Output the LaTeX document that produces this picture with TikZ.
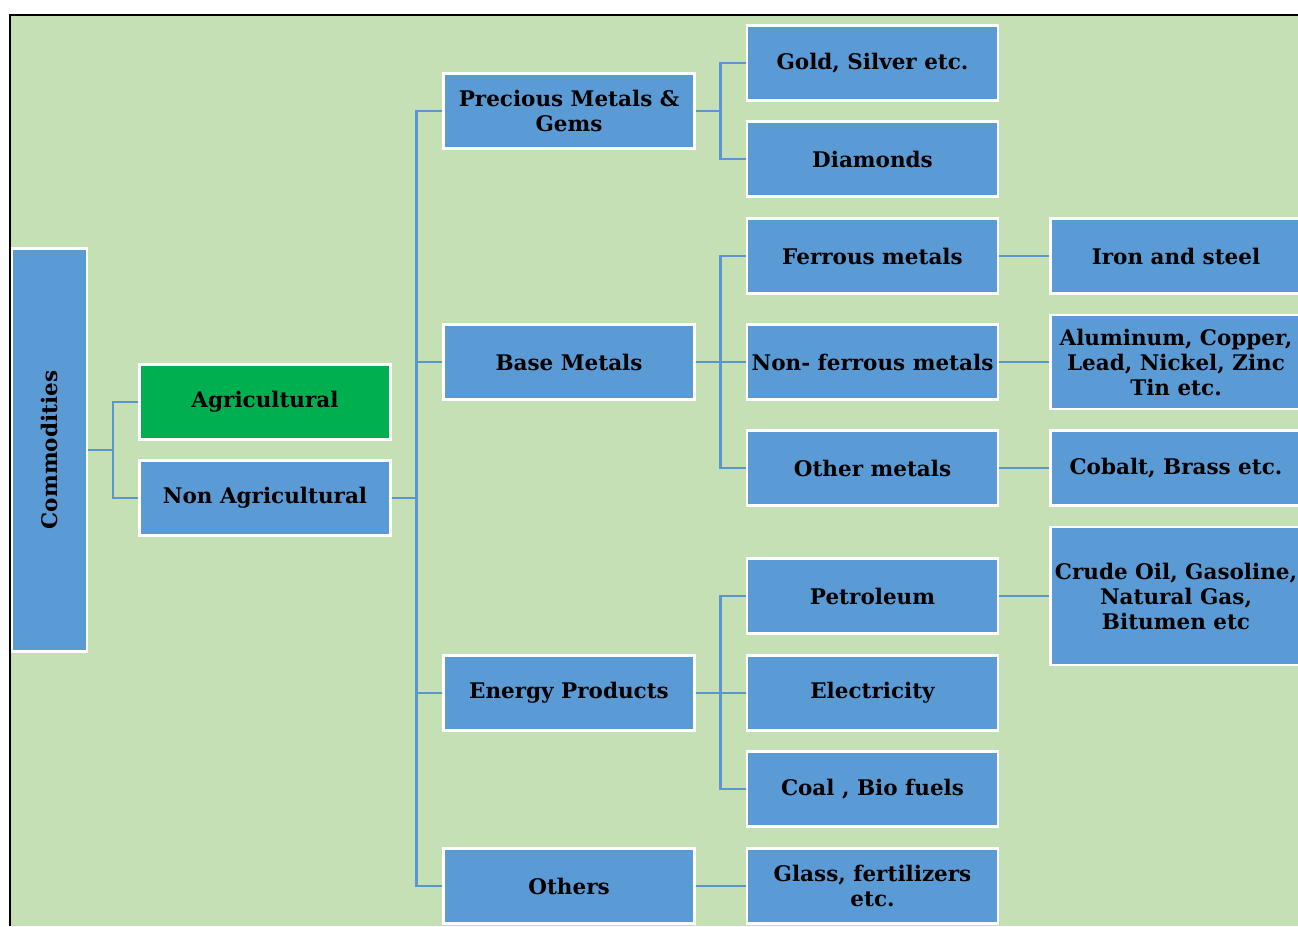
\documentclass[tikz,border=0pt]{standalone}
\usetikzlibrary{positioning}
\usepackage{xcolor}
\usepackage{fontspec}
\setmainfont{DejaVu Serif}
\definecolor{paleGreen}{HTML}{C5E0B4}
\definecolor{boxBlue}{HTML}{5B9BD5}
\definecolor{agriGreen}{HTML}{00B050}
\definecolor{lineBlue}{HTML}{5A96D0}

\tikzset{
  box/.style={draw=white, line width=2.2pt, fill=boxBlue, minimum width=251pt,
    minimum height=75pt, align=center, inner sep=1pt,
    font=\fontsize{21.5}{25}\selectfont\bfseries},
  link/.style={lineBlue, line width=2.5pt},
}

\begin{document}
\begin{tikzpicture}[x=1pt,y=-1pt]
\useasboundingbox (0,0) rectangle (1298,926);
% background panel, black frame on top and left
\fill[paleGreen] (10,15) rectangle (1298,926);
\draw[line width=2pt] (10,926) -- (10,15) -- (1298,15);

% root and first split
\node[box, minimum width=75pt, minimum height=403pt] (com) at (49.5,450) {\rotatebox{90}{Commodities}};
\node[box, fill=agriGreen] (agr) at (265,402) {Agricultural};
\node[box] (nag) at (265,498) {Non Agricultural};

% second level
\node[box] (pmg) at (569,111) {Precious Metals \&\\Gems};
\node[box] (base) at (569,362) {Base Metals};
\node[box] (ener) at (569,693) {Energy Products};
\node[box] (oth) at (569,886) {Others};

% third level
\node[box] (gold) at (872.5,63) {Gold, Silver etc.};
\node[box] (dia) at (872.5,159) {Diamonds};
\node[box] (fer) at (872.5,256) {Ferrous metals};
\node[box] (nfer) at (872.5,362) {Non- ferrous metals};
\node[box] (othm) at (872.5,468) {Other metals};
\node[box] (pet) at (872.5,596) {Petroleum};
\node[box] (ele) at (872.5,693) {Electricity};
\node[box] (coal) at (872.5,789) {Coal , Bio fuels};
\node[box] (glass) at (872.5,886) {Glass, fertilizers\\etc.};

% fourth level (runs past the right edge)
\node[box] (iron) at (1176,256) {Iron and steel};
\node[box, minimum height=94pt] (alu) at (1176,362) {Aluminum, Copper,\\Lead, Nickel, Zinc\\Tin etc.};
\node[box, minimum height=138pt] (crude) at (1176,596) {Crude Oil, Gasoline,\\Natural Gas,\\Bitumen etc};
\node[box] (cob) at (1176,468) {Cobalt, Brass etc.};

% connectors
\draw[link] (com.east) -- ++(25,0) coordinate (j1) |- (agr.west);
\draw[link] (j1) |- (nag.west);

\draw[link] (nag.east) -- ++(25,0) coordinate (j2);
\foreach \n in {pmg,base,ener,oth}
  \draw[link] (j2) |- (\n.west);

\draw[link] (pmg.east) -- ++(25,0) coordinate (j3) |- (gold.west);
\draw[link] (j3) |- (dia.west);

\draw[link] (base.east) -- (nfer.west);
\path (base.east) -- ++(25,0) coordinate (j4);
\draw[link] (j4) |- (fer.west);
\draw[link] (j4) |- (othm.west);

\draw[link] (ener.east) -- (ele.west);
\path (ener.east) -- ++(25,0) coordinate (j5);
\draw[link] (j5) |- (pet.west);
\draw[link] (j5) |- (coal.west);

\draw[link] (oth.east) -- (glass.west);

\draw[link] (fer.east) -- (iron.west);
\draw[link] (nfer.east) -- (alu.west);
\draw[link] (othm.east) -- (cob.west);
\draw[link] (pet.east) -- (crude.west);
\end{tikzpicture}
\end{document}
